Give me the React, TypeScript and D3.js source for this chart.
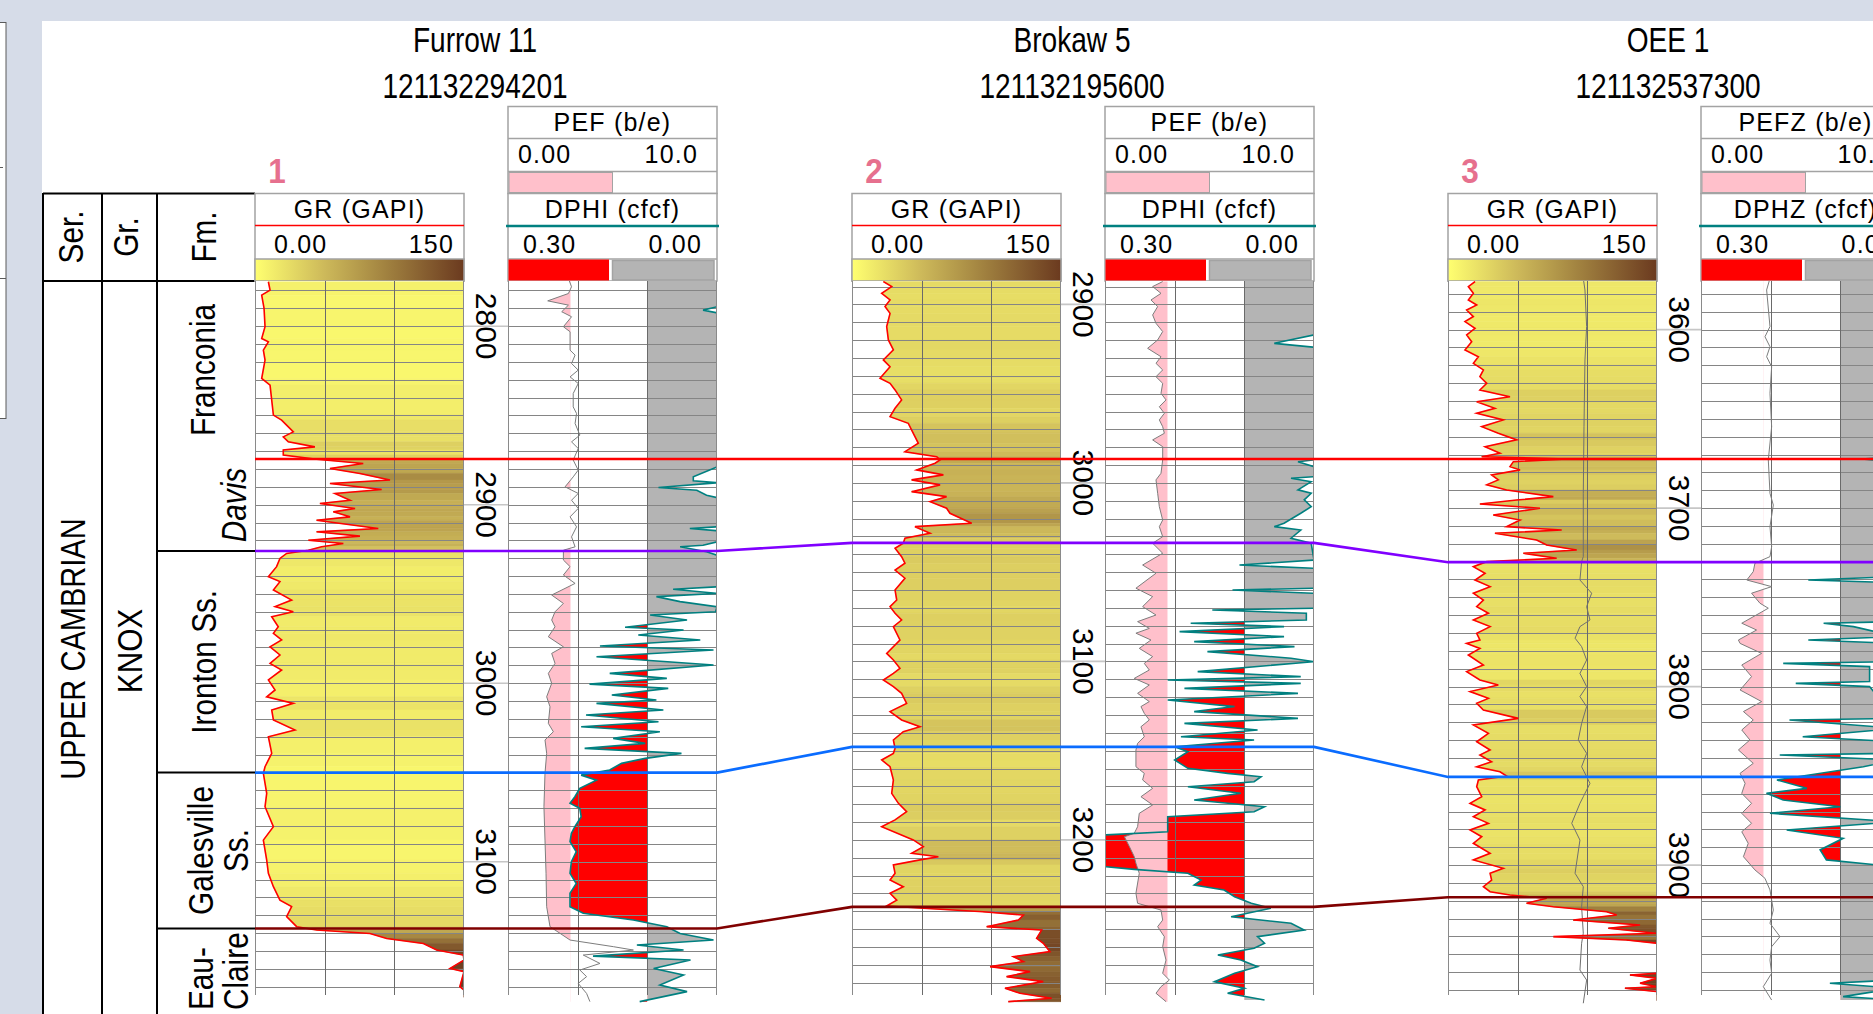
import React, { useEffect } from "react";
import * as d3 from "d3";

type Pt = [number, number];

// ---------------- text / labels ----------------
const wellNames = ["Furrow 11", "Brokaw 5", "OEE 1"];
const wellUWIs = ["121132294201", "121132195600", "121132537300"];
const wellNumbers = ["1", "2", "3"];
const grTitle = "GR (GAPI)";
const pefTitles = ["PEF (b/e)", "PEF (b/e)", "PEFZ (b/e)"];
const dphiTitles = ["DPHI (cfcf)", "DPHI (cfcf)", "DPHZ (cfcf)"];
const grScaleLabels = ["0.00", "150"];
const pefScaleLabels = ["0.00", "10.0"];
const dphiScaleLabels = ["0.30", "0.00"];
const depthTicks = [
  [2800, 2900, 3000, 3100],
  [2900, 3000, 3100, 3200],
  [3600, 3700, 3800, 3900],
];
const colHeaders = ["Ser.", "Gr.", "Fm."];
const seriesLabel = "UPPER CAMBRIAN";
const groupLabel = "KNOX";
const fmLabels = [["Franconia"], ["Davis"], ["Ironton Ss."], ["Galesville", "Ss."], ["Eau-", "Claire"]];

// scales of the curves
const grDomain = [0, 150];
const pefDomain = [0, 10];
const dphiDomain = [0.3, 0];
const pefCutoff = 3.0;
const dphiCutoff = 0.1;

// formation tops (ft): Davis, Ironton, Galesville, Eau Claire
const topColors = ["#ff0000", "#8000ff", "#0a6cff", "#800000"];
const furrowTops = [2874.4, 2925.9, 3050.1, 3137.4];
const brokawTops = [2986.6, 3033.6, 3147.9, 3237.5];
const oeeTops = [3672.5, 3730.3, 3850.6, 3918.0];

// ---------------- log curves [depth ft, value] ----------------
const furrowGR: Pt[] = [
  [2775.1, 9.6], [2779.8, 10.8], [2782.6, 4.8], [2790.0, 6.5], [2800.3, 7.2], [2806.9, 4.8], [2808.8, 9.6], [2813.4, 6.0],
  [2819.0, 7.2], [2829.3, 4.8], [2833.0, 10.8], [2849.8, 13.2], [2852.6, 19.1], [2859.2, 27.5], [2862.0, 20.3],
  [2864.8, 23.9], [2867.6, 43.0], [2869.4, 20.3], [2872.2, 20.3], [2874.5, 44.2], [2876.9, 77.7], [2879.7, 53.8],
  [2882.5, 75.3], [2886.2, 96.9], [2888.1, 53.8], [2891.5, 90.9], [2893.7, 57.4], [2897.5, 68.2], [2899.3, 46.6],
  [2902.1, 71.8], [2904.0, 56.2], [2906.8, 68.2], [2908.7, 44.2], [2913.3, 88.5], [2915.2, 44.2], [2917.6, 75.3],
  [2919.9, 38.3], [2921.7, 63.4], [2923.6, 47.8], [2925.5, 38.3], [2927.3, 22.7], [2930.1, 17.9], [2934.7, 15.5],
  [2940.3, 9.6], [2943.1, 17.9], [2947.8, 13.2], [2953.4, 26.3], [2957.1, 14.4], [2960.0, 27.5], [2962.8, 12.0],
  [2968.4, 16.7], [2972.1, 13.2], [2975.8, 19.1], [2979.6, 10.8], [2984.2, 17.9], [2988.9, 10.8], [2992.6, 19.1],
  [2998.2, 9.6], [3003.8, 14.4], [3007.6, 8.4], [3011.3, 27.5], [3015.0, 12.0], [3020.6, 13.2], [3026.2, 28.7],
  [3030.0, 9.6], [3039.3, 12.0], [3046.8, 7.2], [3050.5, 6.0], [3061.7, 8.4], [3069.2, 7.2], [3080.4, 13.2],
  [3087.9, 6.0], [3099.1, 8.4], [3106.5, 9.6], [3114.0, 13.2], [3121.5, 17.9], [3125.2, 26.3], [3130.8, 22.7],
  [3136.4, 29.9], [3138.3, 44.2], [3140.2, 82.5], [3143.0, 94.5], [3145.8, 120.8], [3149.5, 130.4], [3152.3, 149.5],
  [3155.1, 165], [3159.8, 140], [3161.6, 165], [3170.0, 147], [3171.9, 165], [3176.0, 165],
];
const furrowPEF: Pt[] = [
  [2773.3, 2.89], [2777.9, 3.04], [2781.7, 2.89], [2785.8, 1.9], [2788.2, 2.89], [2791.9, 2.57], [2794.7, 3.04],
  [2800.3, 2.65], [2803.1, 2.97], [2813.4, 2.97], [2816.2, 3.21], [2820.9, 3.04], [2824.6, 3.36], [2828.4, 2.97],
  [2832.1, 3.36], [2837.7, 3.12], [2845.2, 3.12], [2848.9, 3.28], [2854.5, 3.21], [2861.0, 3.44], [2864.8, 3.04],
  [2868.5, 3.36], [2875.0, 3.12], [2880.6, 3.36], [2884.4, 3.12], [2890.0, 2.73], [2893.7, 3.36], [2897.5, 3.04],
  [2902.1, 3.36], [2906.8, 2.97], [2912.4, 3.28], [2918.0, 3.04], [2923.6, 3.21], [2925.5, 2.65], [2931.0, 2.65],
  [2934.7, 2.97], [2939.4, 2.65], [2944.1, 3.21], [2950.6, 2.09], [2955.3, 2.65], [2960.0, 2.25], [2964.6, 2.09],
  [2968.4, 2.25], [2974.0, 1.93], [2979.6, 2.65], [2983.3, 2.09], [2988.9, 2.25], [2994.5, 1.93], [3000.1, 2.09],
  [3007.6, 1.85], [3013.2, 2.01], [3022.5, 1.93], [3027.2, 2.17], [3031.8, 1.77], [3039.3, 1.85], [3050.5, 1.77],
  [3069.2, 1.72], [3087.9, 1.77], [3106.5, 1.82], [3125.2, 1.85], [3136.4, 2.01], [3143.9, 2.97], [3147.6, 5.04],
  [3149.5, 6.0], [3152.3, 3.6], [3157.0, 4.4], [3160.7, 3.44], [3164.4, 3.76], [3168.2, 3.36], [3173.8, 3.76],
  [3178.4, 3.92],
];
const furrowDPHI: Pt[] = [
  [2774.2, -0.02], [2789.1, -0.02], [2791.0, 0.02], [2792.5, -0.02], [2878.8, -0.01], [2884.4, 0.034], [2886.6, 0.034],
  [2887.7, -0.01], [2890.4, 0.084], [2891.9, 0.029], [2894.7, 0.015], [2896.0, -0.01], [2912.4, -0.01], [2913.3, 0.039],
  [2914.6, -0.01], [2920.8, -0.01], [2922.7, 0.02], [2923.6, 0.053], [2926.4, 0.015], [2928.3, -0.01], [2946.0, -0.01],
  [2947.4, 0.063], [2949.7, -0.01], [2951.5, 0.087], [2954.3, 0.053], [2957.2, -0.01], [2960.0, 0.002], [2961.8, 0.096],
  [2964.6, 0.043], [2968.7, 0.132], [2970.2, 0.048], [2973.0, 0.113], [2975.8, 0.024], [2979.2, 0.168], [2981.4, 0.005],
  [2985.2, 0.173], [2989.8, 0.005], [2994.5, 0.154], [2997.3, 0.072], [3000.5, 0.183], [3002.9, 0.07], [3006.6, 0.151],
  [3009.4, 0.087], [3011.3, 0.173], [3015.0, 0.077], [3017.8, 0.188], [3021.6, 0.084], [3024.4, 0.195], [3027.2, 0.082],
  [3030.9, 0.149], [3033.7, 0.103], [3036.5, 0.19], [3039.3, 0.051], [3042.1, 0.103], [3044.9, 0.137], [3048.6, 0.154],
  [3051.5, 0.195], [3054.3, 0.173], [3058.9, 0.197], [3063.6, 0.204], [3067.3, 0.211], [3070.1, 0.197], [3074.8, 0.195],
  [3080.4, 0.204], [3084.1, 0.209], [3088.8, 0.211], [3094.4, 0.202], [3100.0, 0.209], [3106.5, 0.211], [3112.2, 0.202],
  [3117.7, 0.211], [3125.2, 0.211], [3128.9, 0.192], [3132.7, 0.12], [3136.4, 0.072], [3140.2, 0.053], [3143.9, 0.005],
  [3146.7, 0.115], [3149.5, 0.048], [3152.9, 0.178], [3155.1, 0.038], [3159.8, 0.091], [3163.5, 0.048], [3169.1, 0.082],
  [3172.8, 0.043], [3178.4, 0.111],
];

const brokawGR: Pt[] = [
  [2887.2, 22.5], [2890.0, 28.5], [2893.8, 21.3], [2897.5, 27.3], [2901.2, 23.7], [2905.0, 27.3], [2912.4, 24.9],
  [2919.9, 26.1], [2925.5, 29.7], [2931.1, 22.5], [2934.9, 27.3], [2941.4, 20.1], [2944.2, 27.3], [2947.9, 30.9],
  [2953.5, 35.6], [2958.2, 30.9], [2962.9, 27.3], [2966.6, 40.4], [2972.2, 44.0], [2977.8, 47.6], [2982.5, 38.0],
  [2985.3, 60.8], [2987.1, 63.2], [2989.0, 59.6], [2992.7, 46.4], [2995.5, 65.6], [2998.3, 42.8], [3001.1, 63.2],
  [3004.9, 42.8], [3007.7, 67.9], [3010.5, 56.0], [3014.2, 67.9], [3017.0, 70.3], [3022.6, 85.9], [3024.5, 45.2],
  [3028.2, 56.0], [3031.0, 38.0], [3033.8, 36.8], [3036.6, 30.9], [3041.3, 35.6], [3045.0, 38.0], [3048.8, 30.9],
  [3053.4, 38.0], [3060.0, 30.9], [3065.6, 32.1], [3069.3, 27.3], [3073.0, 30.9], [3076.8, 35.6], [3080.5, 29.7],
  [3088.0, 34.4], [3095.5, 24.9], [3099.2, 29.7], [3103.9, 34.4], [3106.7, 29.7], [3110.4, 22.5], [3114.1, 29.7],
  [3117.9, 35.6], [3123.5, 39.2], [3128.1, 27.3], [3132.8, 35.6], [3136.6, 48.8], [3139.4, 36.8], [3144.0, 29.7],
  [3148.7, 30.9], [3151.5, 29.7], [3155.2, 21.3], [3159.0, 27.3], [3166.4, 29.7], [3173.9, 28.5], [3179.5, 33.3],
  [3184.2, 39.2], [3188.8, 30.9], [3192.6, 21.3], [3200.0, 44.0], [3203.8, 51.2], [3207.5, 42.8], [3209.4, 62.0],
  [3211.2, 48.8], [3214.0, 29.7], [3218.7, 30.9], [3222.5, 27.3], [3226.2, 36.8], [3229.9, 27.3], [3233.7, 32.1],
  [3237.0, 24.9], [3238.3, 51.2], [3240.2, 94.2], [3242.1, 123.0], [3244.9, 119.4], [3248.6, 96.7], [3250.5, 136.1],
  [3255.1, 132.5], [3257.9, 137.3], [3262.6, 142.1], [3265.4, 115.8], [3268.2, 123.0], [3271.0, 99.1], [3273.8, 127.8],
  [3276.6, 111.0], [3279.4, 137.3], [3283.1, 109.8], [3285.9, 120.6], [3288.7, 143.3], [3290.6, 112.2],
];
const brokawPEF: Pt[] = [
  [2887.2, 2.76], [2890.0, 2.28], [2893.8, 2.68], [2897.5, 2.2], [2901.2, 2.52], [2905.9, 2.28], [2910.6, 2.44],
  [2915.2, 2.76], [2919.9, 2.52], [2924.6, 2.04], [2929.3, 2.68], [2933.0, 2.44], [2936.7, 2.76], [2940.5, 2.44],
  [2944.2, 2.76], [2949.8, 2.68], [2953.5, 2.92], [2957.3, 2.6], [2961.0, 2.84], [2964.7, 2.6], [2968.5, 2.76],
  [2972.2, 2.84], [2975.9, 2.28], [2979.7, 2.76], [2987.1, 2.76], [2994.6, 2.68], [2998.3, 2.44], [3005.8, 2.52],
  [3013.3, 2.6], [3020.8, 2.76], [3024.5, 2.6], [3030.1, 2.76], [3033.8, 2.28], [3039.4, 2.76], [3046.0, 1.8],
  [3050.6, 2.44], [3059.0, 1.48], [3063.7, 2.28], [3069.3, 1.8], [3074.0, 2.44], [3077.7, 1.56], [3081.5, 2.12],
  [3084.2, 1.48], [3088.0, 2.2], [3092.7, 1.64], [3097.3, 2.28], [3101.1, 1.88], [3104.8, 2.12], [3109.5, 1.4],
  [3113.2, 2.12], [3117.9, 1.56], [3122.5, 2.12], [3125.3, 1.72], [3129.1, 1.88], [3132.8, 2.12], [3136.6, 1.72],
  [3142.2, 1.88], [3145.9, 1.56], [3149.6, 1.48], [3159.0, 1.48], [3162.7, 1.88], [3166.4, 1.8], [3171.1, 2.28],
  [3175.8, 1.72], [3180.4, 2.28], [3185.1, 1.64], [3192.6, 1.56], [3196.3, 1.4], [3198.2, 0.93], [3203.8, 1.17],
  [3209.4, 1.4], [3213.1, 1.48], [3218.7, 1.64], [3229.9, 1.48], [3235.5, 1.56], [3239.3, 2.68], [3244.9, 2.76],
  [3248.6, 2.52], [3254.2, 2.84], [3259.8, 2.76], [3267.3, 2.92], [3274.7, 2.76], [3278.5, 3.08], [3282.2, 2.68],
  [3285.9, 2.44], [3290.6, 2.92],
];
const brokawDPHI: Pt[] = [
  [2886.3, -0.02], [2917.1, -0.02], [2921.8, 0.057], [2924.0, -0.02], [2987.1, -0.02], [2988.1, 0.023], [2990.9, -0.02],
  [2996.5, 0.0], [2997.4, 0.033], [2999.3, 0.004], [3003.9, 0.023], [3005.8, 0.004], [3009.5, 0.014], [3013.3, 0.004],
  [3017.0, 0.019], [3022.6, 0.043], [3024.5, 0.057], [3026.4, 0.019], [3031.0, 0.033], [3033.8, 0.004], [3043.2, -0.01],
  [3046.0, 0.107], [3047.8, -0.01], [3059.0, -0.01], [3060.0, 0.117], [3061.8, -0.01], [3070.2, -0.01], [3071.2, 0.146],
  [3073.0, 0.011], [3076.8, 0.011], [3078.6, 0.177], [3080.5, 0.043], [3083.3, 0.193], [3086.1, 0.043], [3088.9, 0.172],
  [3091.7, 0.028], [3094.5, 0.153], [3098.2, 0.033], [3100.1, 0.0], [3105.7, 0.167], [3108.5, 0.019], [3110.4, 0.21],
  [3112.3, 0.019], [3115.1, 0.186], [3117.9, 0.023], [3121.6, 0.21], [3125.3, 0.114], [3128.1, 0.172], [3131.9, 0.023],
  [3134.7, 0.186], [3138.4, 0.081], [3142.2, 0.191], [3144.0, 0.086], [3147.8, 0.2], [3150.6, 0.181], [3155.2, 0.2],
  [3159.9, 0.181], [3162.7, 0.124], [3164.6, 0.076], [3167.4, 0.086], [3170.2, 0.181], [3173.9, 0.105], [3177.6, 0.172],
  [3181.4, 0.071], [3184.2, 0.086], [3187.0, 0.21], [3195.4, 0.21], [3197.2, 0.31], [3215.0, 0.31], [3216.5, 0.258],
  [3218.7, 0.181], [3222.5, 0.162], [3225.3, 0.172], [3228.1, 0.129], [3231.8, 0.114], [3235.5, 0.09], [3238.3, 0.062],
  [3243.0, 0.119], [3246.7, 0.033], [3250.5, 0.014], [3254.2, 0.081], [3257.9, 0.071], [3260.7, 0.086], [3264.5, 0.138],
  [3267.3, 0.105], [3271.0, 0.081], [3274.7, 0.114], [3279.4, 0.143], [3283.1, 0.1], [3285.9, 0.124], [3289.7, 0.071],
];

const oeeGR: Pt[] = [
  [3573.1, 19.4], [3575.9, 14.6], [3579.7, 18.2], [3583.4, 14.6], [3586.2, 20.6], [3589.0, 13.4], [3592.7, 18.2],
  [3595.5, 12.2], [3599.3, 19.4], [3603.0, 13.4], [3606.8, 17.0], [3611.4, 12.2], [3615.2, 21.8], [3618.9, 18.2],
  [3622.6, 25.4], [3626.4, 22.9], [3630.1, 27.8], [3633.8, 22.9], [3637.6, 44.5], [3640.4, 20.6], [3644.1, 33.7],
  [3646.9, 20.6], [3650.6, 39.7], [3654.4, 24.2], [3658.1, 36.1], [3661.8, 49.3], [3665.6, 26.6], [3669.3, 37.3],
  [3671.2, 24.2], [3672.5, 85.2], [3674.0, 46.9], [3676.8, 44.5], [3678.6, 51.7], [3681.4, 31.3], [3684.2, 36.1],
  [3687.0, 27.8], [3689.9, 42.1], [3693.6, 75.6], [3695.5, 49.3], [3697.7, 22.9], [3700.1, 66.0], [3703.9, 32.5],
  [3706.7, 51.7], [3710.4, 42.1], [3712.3, 81.6], [3714.1, 33.7], [3717.9, 63.6], [3720.7, 70.8], [3723.5, 92.4],
  [3725.3, 54.1], [3728.1, 78.0], [3730.0, 27.8], [3732.8, 18.2], [3736.5, 26.6], [3740.3, 19.4], [3744.0, 30.2],
  [3747.7, 18.2], [3751.5, 25.4], [3755.2, 20.6], [3758.9, 29.0], [3762.7, 18.2], [3766.4, 30.2], [3770.2, 20.6],
  [3773.9, 22.9], [3775.8, 13.4], [3778.6, 22.9], [3782.3, 14.6], [3787.9, 25.4], [3791.6, 13.4], [3796.3, 22.9],
  [3799.1, 36.1], [3802.8, 15.8], [3806.6, 29.0], [3809.4, 20.6], [3813.1, 25.4], [3817.8, 50.5], [3821.5, 18.2],
  [3826.2, 29.0], [3830.9, 20.6], [3835.5, 30.2], [3838.3, 22.9], [3842.1, 31.3], [3844.9, 20.6], [3847.7, 37.3],
  [3850.1, 42.1], [3852.3, 21.8], [3856.1, 20.6], [3861.7, 24.2], [3865.4, 15.8], [3869.1, 26.6], [3872.9, 18.2],
  [3876.6, 29.0], [3880.3, 15.8], [3884.1, 24.2], [3887.8, 18.2], [3893.4, 30.2], [3897.1, 18.2], [3901.8, 39.7],
  [3904.6, 30.2], [3908.4, 31.3], [3912.1, 25.4], [3914.9, 30.2], [3916.8, 44.5], [3918.6, 70.8], [3921.4, 56.4],
  [3923.3, 75.6], [3926.1, 113.9], [3928.0, 121.1], [3930.8, 89.9], [3933.6, 137.8], [3935.4, 115.1], [3938.2, 149.8],
  [3940.1, 75.6], [3942.0, 128.2], [3943.8, 165], [3960.6, 165], [3961.6, 130.6], [3963.4, 165], [3966.2, 137.8],
  [3968.1, 165], [3969.0, 127.0], [3970.9, 165], [3976.0, 165],
];
const oeeAux: Pt[] = [
  [3571.3, 97.1], [3577.8, 98.3], [3598.3, 99.5], [3617.0, 98.3], [3654.4, 97.6], [3691.7, 97.1], [3727.2, 97.1],
  [3730.0, 95.9], [3740.3, 94.7], [3747.7, 103.1], [3755.2, 99.5], [3762.7, 101.9], [3766.4, 94.7], [3772.9, 91.2],
  [3777.6, 95.9], [3785.1, 99.5], [3792.6, 94.7], [3800.0, 99.5], [3805.6, 94.7], [3811.2, 99.5], [3820.6, 95.9],
  [3829.9, 93.5], [3837.4, 99.5], [3844.9, 95.9], [3854.2, 101.9], [3861.7, 97.1], [3865.4, 94.7], [3876.6, 88.8],
  [3886.0, 94.7], [3904.6, 91.2], [3912.1, 97.1], [3923.3, 95.9], [3938.2, 97.1], [3943.8, 95.9], [3958.8, 94.7],
  [3964.4, 99.5], [3977.4, 97.1],
];
const oeePEF: Pt[] = [
  [3571.3, 3.3], [3577.8, 3.14], [3598.3, 3.3], [3604.0, 3.06], [3609.6, 3.3], [3615.2, 3.14], [3620.8, 3.38],
  [3635.7, 3.3], [3654.4, 3.38], [3673.0, 3.22], [3691.7, 3.3], [3698.3, 3.46], [3710.4, 3.3], [3721.6, 3.38],
  [3727.2, 3.3], [3730.9, 2.58], [3735.6, 2.5], [3740.3, 2.19], [3744.0, 3.38], [3747.7, 2.42], [3753.3, 2.82],
  [3756.1, 3.22], [3764.5, 1.95], [3768.3, 2.66], [3773.9, 1.79], [3775.8, 1.87], [3781.4, 2.9], [3787.9, 1.95],
  [3794.4, 2.42], [3801.9, 1.87], [3808.4, 2.9], [3814.0, 2.03], [3818.7, 2.5], [3824.3, 1.95], [3829.9, 2.34],
  [3835.5, 1.79], [3843.0, 2.5], [3848.6, 1.87], [3854.2, 2.11], [3859.8, 1.95], [3865.4, 2.42], [3871.0, 1.95],
  [3876.6, 2.42], [3881.3, 1.95], [3887.8, 2.26], [3895.3, 2.03], [3902.7, 2.58], [3907.4, 3.06], [3913.9, 3.3],
  [3919.6, 3.38], [3925.2, 3.46], [3932.6, 3.3], [3940.1, 3.78], [3945.7, 3.38], [3953.2, 3.3], [3960.6, 3.38],
  [3968.1, 2.98], [3975.6, 3.38],
];
const oeeDPHI: Pt[] = [
  [3571.3, 0.02], [3671.2, 0.02], [3672.5, 0.069], [3674.0, 0.02], [3738.4, 0.02], [3740.3, 0.146], [3741.8, 0.02],
  [3763.6, 0.02], [3764.5, 0.124], [3766.4, 0.081], [3772.0, 0.02], [3773.9, 0.146], [3775.8, 0.02], [3786.0, 0.02],
  [3787.0, 0.182], [3788.8, 0.058], [3797.2, 0.058], [3798.2, 0.164], [3800.0, 0.058], [3817.8, 0.02], [3818.7, 0.173],
  [3823.4, 0.02], [3828.1, 0.154], [3830.9, 0.02], [3837.4, 0.02], [3838.3, 0.187], [3841.1, 0.02], [3844.9, 0.067],
  [3852.3, 0.191], [3857.0, 0.148], [3859.8, 0.206], [3863.5, 0.182], [3867.3, 0.1], [3871.0, 0.201], [3875.7, 0.02],
  [3880.3, 0.177], [3885.0, 0.096], [3891.5, 0.129], [3897.1, 0.12], [3900.9, 0.02], [3964.4, 0.02], [3966.2, 0.115],
  [3969.0, 0.02], [3973.7, 0.096], [3975.6, 0.02],
];

const wellTops = [furrowTops, brokawTops, oeeTops];
const wellGR = [furrowGR, brokawGR, oeeGR];
const wellPEF = [furrowPEF, brokawPEF, oeePEF];
const wellDPHI = [furrowDPHI, brokawDPHI, oeeDPHI];
const wellAux: (Pt[] | null)[] = [null, null, oeeAux];

// ---------------- layout ----------------
const W = 1873, H = 1014;
const FONT = "Liberation Sans, Arial, Helvetica, sans-serif";
const TW = 209;
const GR_LEFTS = [255, 852, 1448];
const PEF_OFFSET = 253;
const TRACK_TOP = 281, TRACK_BOTTOM = 995, DATA_BOTTOM = 1004;
const DATUM_Y = 459, PX_PER_FT = 1.785;
const GRID = "#858585";

const grColor = d3
  .scaleLinear<string>()
  .domain([0, 50, 100, 150])
  .range(["#ffff70", "#cdb95a", "#9b7a3c", "#6b3a1f"])
  .clamp(true);

function depthScale(datum: number) {
  return d3.scaleLinear().domain([datum, datum + 100]).range([DATUM_Y, DATUM_Y + 100 * PX_PER_FT]);
}

function Well({ i }: { i: number }) {
  const L = GR_LEFTS[i], R = L + TW, P = L + PEF_OFFSET, PR = P + TW;
  const y = depthScale(wellTops[i][0]);
  const dTop = y.invert(TRACK_TOP), dBot = y.invert(TRACK_BOTTOM);
  const xGR = d3.scaleLinear().domain(grDomain).range([L, R]).clamp(true);
  const xPEF = d3.scaleLinear().domain(pefDomain).range([P, PR]).clamp(true);
  const xD = d3.scaleLinear().domain(dphiDomain).range([P, PR]).clamp(true);
  const gr = wellGR[i], pef = wellPEF[i], dphi = wellDPHI[i], aux = wellAux[i];
  const grid10 = d3.range(Math.ceil(dTop / 10) * 10, dBot + 0.01, 10);
  const lineGR = d3.line<Pt>().x((d) => xGR(d[1])).y((d) => y(d[0]));
  const linePEF = d3.line<Pt>().x((d) => xPEF(d[1])).y((d) => y(d[0]));
  const lineD = d3.line<Pt>().x((d) => xD(d[1])).y((d) => y(d[0]));
  const xb = xD(dphiCutoff);
  const xp = xPEF(pefCutoff);
  const areaD = d3.area<Pt>().y((d) => y(d[0])).x0(xb).x1((d) => xD(d[1]));
  const areaP = d3.area<Pt>().y((d) => y(d[0])).x0(xp).x1((d) => xPEF(d[1]));
  const gh = DATA_BOTTOM - TRACK_TOP;

  const fillSegs = gr.slice(0, -1).map((p, j) => {
    const q = gr[j + 1];
    const ya = y(p[0]), yb = y(q[0]);
    const xa = xGR(p[1]), xq = xGR(q[1]);
    const c = grColor((Math.min(p[1], 150) + Math.min(q[1], 150)) / 2);
    return (
      <path key={j} d={`M${xa},${ya}L${R},${ya}L${R},${yb}L${xq},${yb}Z`} fill={c} stroke={c} strokeWidth={0.6} />
    );
  });

  const gridLines = (x0: number, x1: number) =>
    grid10.map((d) => {
      const yy = Math.round(y(d)) + 0.5;
      return <line key={d} x1={x0} x2={x1} y1={yy} y2={yy} stroke={GRID} strokeWidth={1} />;
    });

  const vlines = (x0: number) =>
    [1, 2].map((k) => {
      const xx = Math.round(x0 + (TW * k) / 3) + 0.5;
      return <line key={k} x1={xx} x2={xx} y1={TRACK_TOP} y2={TRACK_BOTTOM} stroke="#6a6a6a" strokeWidth={1} />;
    });

  const gradId = `grad${i}`;
  const hdrStroke = "#a3a3a3";
  const txt = { fontSize: 25, letterSpacing: 1.2, fill: "#000" } as any;

  return (
    <g>
      <defs>
        <linearGradient id={gradId} x1="0" x2="1" y1="0" y2="0">
          {[0, 25, 50, 75, 100, 125, 150].map((v) => (
            <stop key={v} offset={v / 150} stopColor={grColor(v)} />
          ))}
        </linearGradient>
        <clipPath id={`cg${i}`}><rect x={L} y={TRACK_TOP} width={TW} height={gh} /></clipPath>
        <clipPath id={`cgl${i}`}><rect x={L} y={TRACK_TOP} width={TW - 1} height={gh} /></clipPath>
        <clipPath id={`cr${i}`}><rect x={P} y={TRACK_TOP} width={xb - P} height={gh} /></clipPath>
        <clipPath id={`cy${i}`}><rect x={xb} y={TRACK_TOP} width={PR - xb} height={gh} /></clipPath>
        <clipPath id={`cp${i}`}><rect x={P} y={TRACK_TOP} width={xp - P} height={gh} /></clipPath>
        <clipPath id={`cl${i}`}><rect x={P + 1} y={TRACK_TOP} width={TW - 2} height={gh} /></clipPath>
      </defs>

      {/* ---- headers ---- */}
      <text x={L + 22} y={183} fontSize={35} fontWeight="bold" fill="#e6708e" textAnchor="middle"
        transform={`translate(${L + 22},0) scale(0.9,1) translate(${-(L + 22)},0)`}>{wellNumbers[i]}</text>

      <rect x={L} y={193.5} width={TW} height={87.5} fill="#fff" stroke={hdrStroke} strokeWidth={1.5} />
      <text x={L + TW / 2} y={218} textAnchor="middle" {...txt}>{grTitle}</text>
      <line x1={L} x2={R} y1={225.5} y2={225.5} stroke="#ff0000" strokeWidth={1.5} />
      <text x={L + 19} y={253} {...txt}>{grScaleLabels[0]}</text>
      <text x={R - 10} y={253} textAnchor="end" {...txt}>{grScaleLabels[1]}</text>
      <rect x={L} y={259} width={TW} height={22} fill={`url(#${gradId})`} stroke={hdrStroke} strokeWidth={1.5} />

      <rect x={P} y={106.5} width={TW} height={87} fill="#fff" stroke={hdrStroke} strokeWidth={1.5} />
      <text x={P + TW / 2} y={131} textAnchor="middle" {...txt}>{pefTitles[i]}</text>
      <line x1={P} x2={PR} y1={138.5} y2={138.5} stroke={hdrStroke} strokeWidth={1.5} />
      <text x={P + 10} y={163} {...txt}>{pefScaleLabels[0]}</text>
      <text x={PR - 19} y={163} textAnchor="end" {...txt}>{pefScaleLabels[1]}</text>
      <line x1={P} x2={PR} y1={171.5} y2={171.5} stroke={hdrStroke} strokeWidth={1.5} />
      <rect x={P + 1} y={172.5} width={xPEF(5) - P - 1} height={20} fill="#ffc0cb" stroke={hdrStroke} strokeWidth={1} />

      <rect x={P} y={193.5} width={TW} height={87.5} fill="#fff" stroke={hdrStroke} strokeWidth={1.5} />
      <text x={P + TW / 2} y={218} textAnchor="middle" {...txt}>{dphiTitles[i]}</text>
      <line x1={P - 2} x2={PR + 2} y1={226} y2={226} stroke="#008080" strokeWidth={2.5} />
      <text x={P + 15} y={253} {...txt}>{dphiScaleLabels[0]}</text>
      <text x={PR - 15} y={253} textAnchor="end" {...txt}>{dphiScaleLabels[1]}</text>
      <line x1={P} x2={PR} y1={259} y2={259} stroke={hdrStroke} strokeWidth={1.5} />
      <rect x={P + 0.5} y={259.5} width={xD(0.15) - P - 4} height={21} fill="#ff0000" />
      <rect x={xD(0.15)} y={260.5} width={PR - xD(0.15) - 3} height={19.5} fill="#b4b4b4" stroke={hdrStroke} strokeWidth={1.5} />

      {/* ---- GR track ---- */}
      <rect x={L} y={TRACK_TOP} width={TW} height={TRACK_BOTTOM - TRACK_TOP} fill="#fff" />
      <g clipPath={`url(#cg${i})`}>{fillSegs}</g>
      {gridLines(L, R)}
      {vlines(L)}
      <line x1={L + 0.5} x2={L + 0.5} y1={TRACK_TOP} y2={TRACK_BOTTOM} stroke="#8a8a8a" />
      <line x1={R - 0.5} x2={R - 0.5} y1={TRACK_TOP} y2={TRACK_BOTTOM} stroke="#8a8a8a" />
      {aux && (
        <path d={lineGR(aux) || ""} fill="none" stroke="#6f6f6f" strokeWidth={1} clipPath={`url(#cg${i})`} />
      )}
      <path d={lineGR(gr) || ""} fill="none" stroke="#ff0000" strokeWidth={1.6} clipPath={`url(#cgl${i})`} />

      {/* ---- depth track ---- */}
      {depthTicks[i].map((d) => (
        <line key={"m" + d} x1={R} x2={P} y1={y(d)} y2={y(d)} stroke="#c6c6c6" strokeWidth={1.6} />
      ))}
      {depthTicks[i].map((d) => (
        <text key={d} transform={`translate(${R + 12},${y(d)}) rotate(90)`} textAnchor="middle" fontSize={30} fill="#000">
          {d}
        </text>
      ))}

      {/* ---- PEF / DPHI track ---- */}
      <rect x={P} y={TRACK_TOP} width={TW} height={TRACK_BOTTOM - TRACK_TOP} fill="#fff" />
      <path d={areaD(dphi) || ""} fill="#ff0000" clipPath={`url(#cr${i})`} />
      <path d={areaD(dphi) || ""} fill="#b4b4b4" clipPath={`url(#cy${i})`} />
      <path d={areaP(pef) || ""} fill="#ffc0cb" clipPath={`url(#cp${i})`} />
      {gridLines(P, PR)}
      {vlines(P)}
      <line x1={P + 0.5} x2={P + 0.5} y1={TRACK_TOP} y2={TRACK_BOTTOM} stroke="#8a8a8a" />
      <line x1={PR - 0.5} x2={PR - 0.5} y1={TRACK_TOP} y2={TRACK_BOTTOM} stroke="#8a8a8a" />
      <path d={linePEF(pef) || ""} fill="none" stroke="#7d7d7d" strokeWidth={1} clipPath={`url(#cl${i})`} />
      <path d={lineD(dphi) || ""} fill="none" stroke="#008080" strokeWidth={1.6} clipPath={`url(#cl${i})`} />
    </g>
  );
}

function VText(props: {
  x: number; y: number; text: string; size?: number; anchor?: string; italic?: boolean; sx?: number;
}) {
  const { x, y, text, size = 35, anchor = "middle", italic = false, sx = 0.85 } = props;
  return (
    <text transform={`translate(${x},${y}) rotate(-90) scale(${sx},1)`} textAnchor={anchor as any} fontSize={size}
      fontStyle={italic ? "italic" : "normal"} fill="#000">
      {text}
    </text>
  );
}

function StratColumn() {
  const y1 = depthScale(furrowTops[0]);
  const yb = furrowTops.map((t) => y1(t));
  const blk = "#000";
  return (
    <g>
      <line x1={43} x2={255} y1={193.5} y2={193.5} stroke={blk} strokeWidth={2} />
      <line x1={43} x2={255} y1={281} y2={281} stroke={blk} strokeWidth={2} />
      {[43, 102, 157].map((x) => (
        <line key={x} x1={x} x2={x} y1={193} y2={H} stroke={blk} strokeWidth={2} />
      ))}
      {[1, 2, 3].map((k) => (
        <line key={k} x1={157} x2={255} y1={yb[k]} y2={yb[k]} stroke={blk} strokeWidth={2} />
      ))}
      <VText x={83} y={237} text={colHeaders[0]} />
      <VText x={138} y={237} text={colHeaders[1]} />
      <VText x={216} y={237} text={colHeaders[2]} />
      <VText x={85} y={649} text={seriesLabel} sx={0.83} />
      <VText x={142} y={651} text={groupLabel} />
      <VText x={215} y={(TRACK_TOP + yb[0]) / 2} text={fmLabels[0][0]} />
      <VText x={246} y={(yb[0] + yb[1]) / 2} text={fmLabels[1][0]} italic />
      <VText x={216} y={(yb[1] + yb[2]) / 2} text={fmLabels[2][0]} />
      <VText x={213} y={(yb[2] + yb[3]) / 2} text={fmLabels[3][0]} />
      <VText x={248} y={(yb[2] + yb[3]) / 2} text={fmLabels[3][1]} />
      <VText x={213} y={1010} text={fmLabels[4][0]} anchor="start" />
      <VText x={248} y={1010} text={fmLabels[4][1]} anchor="start" />
    </g>
  );
}

function Correlations() {
  const line = d3.line<Pt>();
  return (
    <g>
      {topColors.map((c, k) => {
        const pts: Pt[] = [];
        GR_LEFTS.forEach((L, i) => {
          const yy = depthScale(wellTops[i][0])(wellTops[i][k]);
          pts.push([L, yy], [L + PEF_OFFSET + TW, yy]);
        });
        return <path key={k} d={line(pts) || ""} fill="none" stroke={c} strokeWidth={2.6} />;
      })}
    </g>
  );
}

export default function App() {
  useEffect(() => {
    document.body.style.margin = "0";
  }, []);
  return (
    <svg width={W} height={H} style={{ position: "absolute", left: 0, top: 0, display: "block" }} fontFamily={FONT}>
      <rect width={W} height={H} fill="#d6dce8" />
      <rect x={42} y={21} width={W - 42} height={H - 21} fill="#fff" />
      <rect x={-2} y={22.5} width={8} height={396} fill="#fff" stroke="#5a5a5a" strokeWidth={1} />
      <line x1={0} x2={3} y1={167.5} y2={167.5} stroke="#5a5a5a" />
      <line x1={0} x2={6} y1={278.5} y2={278.5} stroke="#5a5a5a" />

      {wellNames.map((n, i) => {
        const cx = GR_LEFTS[i] + 220;
        return (
          <g key={n} transform={`translate(${cx},0) scale(0.78,1)`}>
            <text x={0} y={52} textAnchor="middle" fontSize={36} fill="#000">{n}</text>
            <text x={0} y={98} textAnchor="middle" fontSize={36} fill="#000">{wellUWIs[i]}</text>
          </g>
        );
      })}

      <StratColumn />
      {wellNames.map((n, i) => (
        <Well key={n} i={i} />
      ))}
      <Correlations />
    </svg>
  );
}
